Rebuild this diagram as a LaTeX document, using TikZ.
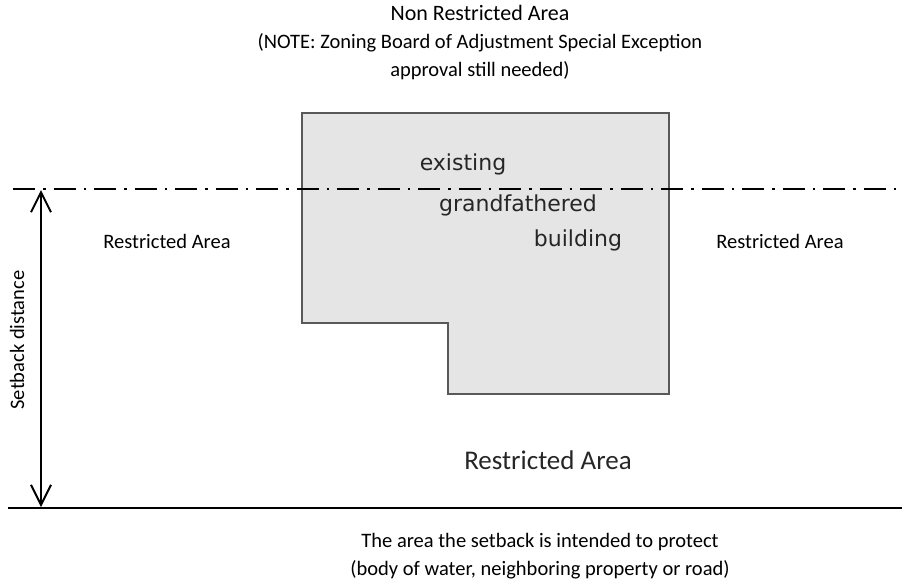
\documentclass[tikz,border=0pt]{standalone}
\usepackage{fontspec}
\setmainfont{Carlito}
\newfontfamily\bldfont{DejaVu Sans}
\usetikzlibrary{arrows.meta,positioning}

\tikzset{
    label/.style={font=\fontsize{20.5}{28}\selectfont, align=center},
    bldlabel/.style={font=\bldfont\fontsize{22}{26}\selectfont, text=black!85},
    setbackline/.style={line width=2pt, dash pattern=on 22pt off 8pt on 2.5pt off 8pt},
}

\begin{document}
\begin{tikzpicture}[x=1pt,y=-1pt]
    \useasboundingbox (0,0) rectangle (902,582);

    % building footprint
    \draw[fill=black!10, draw=black!65, line width=1.5pt]
        (302,113) -- (669,113) -- (669,394) -- (448,394) -- (448,323) -- (302,323) -- cycle;

    \node[bldlabel] (existing) at (463,164) {existing};
    \node[bldlabel] (grandf) at (518,205) {grandfathered};
    \node[bldlabel] (bldg) at (578,240) {building};

    % setback line and protected edge
    \coordinate (setL) at (13,189);
    \coordinate (setR) at (902,189);
    \coordinate (edgeL) at (8,508);
    \coordinate (edgeR) at (902,508);
    \draw[setbackline] (setL) -- (setR);
    \draw[line width=2.5pt] (edgeL) -- (edgeR);

    % setback distance
    \coordinate (arrTop) at (41,190);
    \coordinate (arrBot) at (41,507);
    \draw[line width=2pt, {Straight Barb[length=20pt,width=20pt]}-{Straight Barb[length=20pt,width=20pt]}]
        (arrTop) -- (arrBot);
    \node[label, rotate=90] (setback) at (17,340) {Setback distance};

    % areas
    \node[label] (nonrestr) at (480,43) {\fontsize{22}{28}\selectfont Non Restricted Area\\(NOTE: Zoning Board of Adjustment Special Exception\\approval still needed)};
    \node[label] (restrL) at (167,241) {Restricted Area};
    \node[label] (restrR) at (780,241) {Restricted Area};
    \node[label, font=\fontsize{27}{30}\selectfont, text=black!85] (restrB) at (548,460) {Restricted Area};
    \node[label] (protect) at (540,556) {The area the setback is intended to protect\\(body of water, neighboring property or road)};
\end{tikzpicture}
\end{document}
